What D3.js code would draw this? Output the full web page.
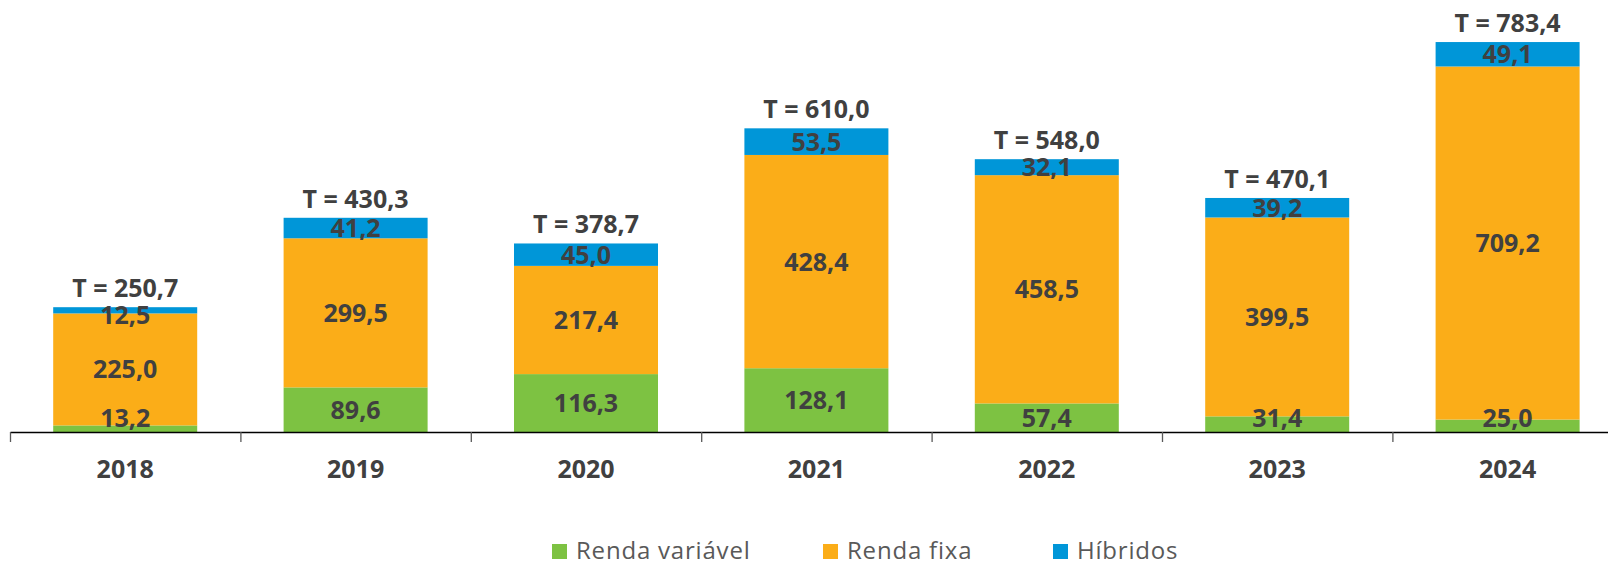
<!DOCTYPE html>
<html>
<head>
<meta charset="utf-8">
<script src="https://cdn.jsdelivr.net/npm/d3@7"></script>
<style>
  body { margin:0; background:#fff; }
  svg { display:block; font-family:"Open Sans", sans-serif; }
</style>
</head>
<body>
<div id="chart-area"></div>
<script>
const years = ["2018","2019","2020","2021","2022","2023","2024"];
const rendaVariavel = [13.2, 89.6, 116.3, 128.1, 57.4, 31.4, 25.0];
const rendaFixa = [225.0, 299.5, 217.4, 428.4, 458.5, 399.5, 709.2];
const hibridos = [12.5, 41.2, 45.0, 53.5, 32.1, 39.2, 49.1];
const totals = [250.7, 430.3, 378.7, 610.0, 548.0, 470.1, 783.4];
const seriesNames = ["Renda variável", "Renda fixa", "Híbridos"];
const seriesKeys = ["rv", "rf", "hb"];

const colors = ['#7DC242','#FBAD18','#0096D8'];
const textColor = "#404040";

const width = 1608, height = 564;
const axisY = 432;

const fmt = v => d3.format(".1f")(v).replace(".", ",");

var svg = d3.select("#chart-area").append("svg")
    .attr("width", width)
    .attr("height", height);

var rows = years.map((y,i) => ({year:y, rv:rendaVariavel[i], rf:rendaFixa[i], hb:hibridos[i], total:totals[i]}));

var x = d3.scaleBand()
    .domain(years)
    .range([10, 10 + 7*230.4])
    .paddingInner(0.375)
    .paddingOuter(0.1875);

var y = d3.scaleLinear()
    .domain([0, 783.4])
    .range([axisY, 42]);

var stack = d3.stack().keys(seriesKeys)(rows);

var layers = svg.append("g").selectAll("g")
    .data(stack)
    .enter().append("g")
    .attr("fill", (d,i) => colors[i]);

layers.selectAll("rect")
    .data(d => d)
    .enter().append("rect")
    .attr("x", d => x(d.data.year))
    .attr("width", x.bandwidth())
    .attr("y", d => y(d[1]))
    .attr("height", d => y(d[0]) - y(d[1]));

// axis: line + boundary ticks
var xb = d3.scaleLinear().domain([0, 7]).range(x.range());
var axis = svg.append("g")
    .attr("transform", "translate(0," + axisY + ")")
    .call(d3.axisBottom(xb).tickValues(d3.range(0, 8)).tickFormat("").tickSize(10).tickSizeOuter(0));
axis.select(".domain").attr("stroke", "#000").attr("stroke-width", 1.3);
axis.selectAll(".tick line").attr("stroke", "#595959").attr("stroke-width", 1.3);

// segment labels (drawn on top of all rects), kept inside the bar like excel does
var segLabels = [];
stack.forEach(s => s.forEach(p => segLabels.push({p:p, key:s.key})));

svg.append("g").selectAll("text")
    .data(segLabels)
    .enter().append("text")
    .attr("x", d => x(d.p.data.year) + x.bandwidth()/2)
    .attr("y", function(d) {
        var top = y(d.p.data.rv + d.p.data.rf + d.p.data.hb);
        var mid = (y(d.p[0]) + y(d.p[1]))/2;
        return Math.max(top + 8, Math.min(axisY - 14, mid));
    })
    .attr("dy", "0.36em")
    .attr("text-anchor", "middle")
    .attr("fill", textColor)
    .attr("font-weight", "bold")
    .attr("font-size", "25px")
    .text(d => fmt(d.p.data[d.key]));

// totals
svg.append("g").selectAll("text")
    .data(rows)
    .enter().append("text")
    .attr("x", d => x(d.year) + x.bandwidth()/2)
    .attr("y", d => y(d.rv + d.rf + d.hb) - 10)
    .attr("text-anchor", "middle")
    .attr("fill", textColor)
    .attr("font-weight", "bold")
    .attr("font-size", "25px")
    .text(d => "T = " + fmt(d.total));

// category labels
svg.append("g").selectAll("text")
    .data(years)
    .enter().append("text")
    .attr("x", d => x(d) + x.bandwidth()/2)
    .attr("y", 478)
    .attr("text-anchor", "middle")
    .attr("fill", textColor)
    .attr("font-weight", "bold")
    .attr("font-size", "25px")
    .text(d => d);

// legend
var legendX = [552, 823, 1053];
var legend = svg.append("g").selectAll("g")
    .data(seriesNames)
    .enter().append("g")
    .attr("transform", (d,i) => "translate(" + legendX[i] + ",544)");

legend.append("rect")
    .attr("width", 15)
    .attr("height", 15)
    .attr("fill", (d,i) => colors[i]);

legend.append("text")
    .attr("x", 24)
    .attr("y", 15)
    .attr("fill", "#595959")
    .attr("font-size", "24px")
    .attr("letter-spacing", "0.8px")
    .text(d => d);
</script>
</body>
</html>
